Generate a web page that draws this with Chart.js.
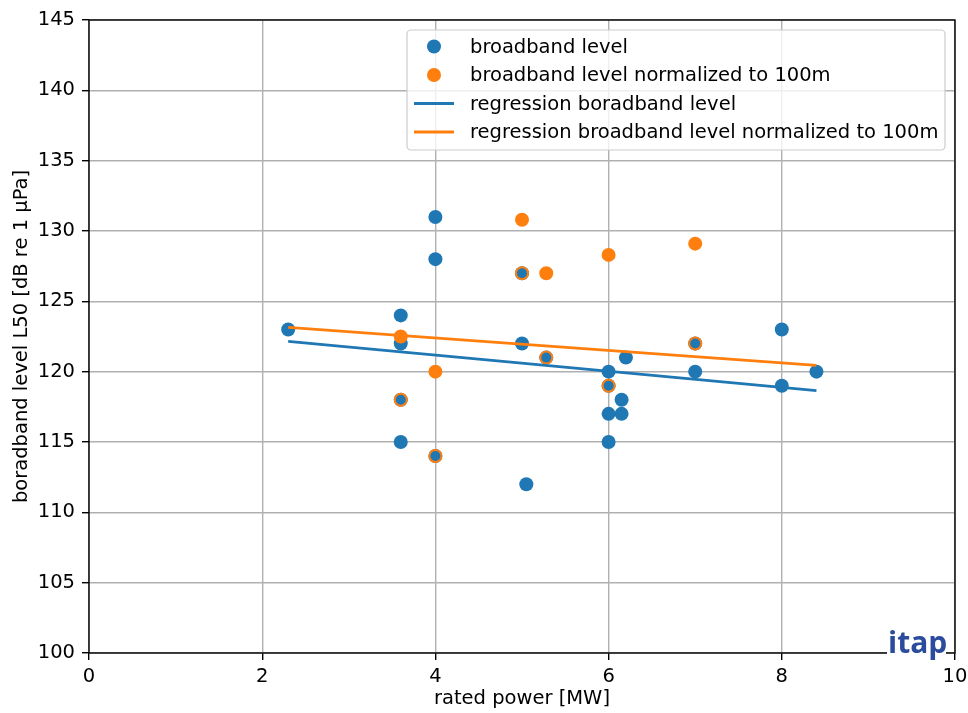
<!DOCTYPE html>
<html>
<head>
<meta charset="utf-8">
<title>broadband level vs rated power</title>
<script src="https://cdn.jsdelivr.net/npm/chart.js@4.4.1/dist/chart.umd.min.js"></script>
<style>
  html, body { margin: 0; padding: 0; background: #fff; }
  #wrap { width: 968px; height: 713px; }
</style>
</head>
<body>
<div id="wrap"><canvas id="levelChart" width="968" height="713"></canvas></div>
<script>
// measured broadband levels per turbine
var blueX = [2.3, 3.6, 3.6, 3.6, 3.6, 4, 4, 4, 5, 5, 5.05, 5.28, 6, 6, 6, 6, 6.15, 6.15, 6.2, 7, 7, 8, 8, 8.4];
var blueY = [123, 124, 122, 118, 115, 131, 128, 114, 127, 122, 112, 121, 120, 119, 117, 115, 118, 117, 121, 122, 120, 123, 119, 120];
// levels normalized to 100m distance
var orangeX = [3.6, 3.6, 4, 4, 5, 5, 5.28, 5.28, 6, 6, 7, 7];
var orangeY = [122.5, 118, 120, 114, 130.8, 127, 127, 121, 128.3, 119, 129.1, 122];
// regression lines (end points)
var regX = [2.3, 8.4];
var regBlue = [122.15, 118.65];
var regOrange = [123.15, 120.45];

var xTicks = [0, 2, 4, 6, 8, 10];
var yTicks = [100, 105, 110, 115, 120, 125, 130, 135, 140, 145];

var BLUE = '#1f77b4';
var ORANGE = '#ff7f0e';
var FONT = '"DejaVu Sans", sans-serif';
var FSIZE = 19.5;

function toPoints(xs, ys) {
	return xs.map(function (x, i) { return { x: x, y: ys[i] }; });
}

// normalized points that sit on a measured point show the blue one inside
function sameAsBlue(p) {
	for (var i = 0; i < blueX.length; i++) {
		if (blueX[i] === p.x && blueY[i] === p.y) return true;
	}
	return false;
}

// frame, legend box and logo drawn on top
var decorations = {
	id: 'decorations',
	afterDatasetsDraw: function (chart) {
		var ctx = chart.ctx, a = chart.chartArea;
		ctx.save();
		ctx.strokeStyle = '#000';
		ctx.lineWidth = 1.4;
		ctx.strokeRect(a.left, a.top, a.right - a.left, a.bottom - a.top);
		ctx.restore();
	},
	afterDraw: function (chart) {
		var ctx = chart.ctx;
		var ds = chart.data.datasets;
		ctx.save();
		// legend
		var bx = 407, by = 30, bw = 538, bh = 120, r = 4;
		ctx.beginPath();
		ctx.moveTo(bx + r, by);
		ctx.arcTo(bx + bw, by, bx + bw, by + bh, r);
		ctx.arcTo(bx + bw, by + bh, bx, by + bh, r);
		ctx.arcTo(bx, by + bh, bx, by, r);
		ctx.arcTo(bx, by, bx + bw, by, r);
		ctx.closePath();
		ctx.fillStyle = 'rgba(255,255,255,0.8)';
		ctx.fill();
		ctx.strokeStyle = '#cccccc';
		ctx.lineWidth = 1.2;
		ctx.stroke();

		var rows = [46.5, 75, 103.5, 132];
		ctx.font = FSIZE + 'px ' + FONT;
		ctx.textBaseline = 'middle';
		ds.forEach(function (d, i) {
			var y = rows[i];
			if (d.showLine) {
				ctx.strokeStyle = d.borderColor;
				ctx.lineWidth = 2.8;
				ctx.beginPath();
				ctx.moveTo(414, y);
				ctx.lineTo(454, y);
				ctx.stroke();
			} else {
				ctx.fillStyle = d.legendColor;
				ctx.beginPath();
				ctx.arc(434, y, 7, 0, Math.PI * 2);
				ctx.fill();
			}
			ctx.fillStyle = '#000';
			ctx.fillText(d.label, 470, y + 1);
		});

		// logo
		ctx.fillStyle = '#fff';
		ctx.fillRect(887, 648, 59, 10);
		ctx.fillStyle = '#2b4c9c';
		ctx.font = 'bold 30px "Open Sans", sans-serif';
		ctx.textBaseline = 'alphabetic';
		ctx.textAlign = 'left';
		ctx.fillText('itap', 888, 653);
		ctx.restore();
	}
};

function noSidePadding(s) {
	s.paddingLeft = 0;
	s.paddingRight = 0;
}

var levelChart = new Chart(document.getElementById('levelChart').getContext('2d'), {
	type: 'scatter',
	data: {
		datasets: [{
			label: 'broadband level',
			data: toPoints(blueX, blueY),
			legendColor: BLUE,
			backgroundColor: BLUE,
			pointBackgroundColor: BLUE,
			pointBorderWidth: 0,
			pointRadius: 7,
			order: 3
		}, {
			label: 'broadband level normalized to 100m',
			data: toPoints(orangeX, orangeY),
			legendColor: ORANGE,
			pointBackgroundColor: function (c) {
				return c.raw && sameAsBlue(c.raw) ? BLUE : ORANGE;
			},
			pointBorderColor: ORANGE,
			pointBorderWidth: 2,
			pointRadius: 6,
			order: 2
		}, {
			label: 'regression boradband level',
			data: toPoints(regX, regBlue),
			showLine: true,
			borderColor: BLUE,
			borderWidth: 2.8,
			pointRadius: 0,
			order: 1
		}, {
			label: 'regression broadband level normalized to 100m',
			data: toPoints(regX, regOrange),
			showLine: true,
			borderColor: ORANGE,
			borderWidth: 2.8,
			pointRadius: 0,
			order: 0
		}]
	},
	options: {
		responsive: false,
		animation: false,
		devicePixelRatio: 1,
		layout: { padding: { top: 20, right: 13, bottom: 0, left: 0 } },
		plugins: {
			legend: { display: false },
			tooltip: { enabled: false }
		},
		scales: {
			x: {
				type: 'linear',
				min: 0,
				max: 10,
				afterBuildTicks: function (s) { s.ticks = xTicks.map(function (v) { return { value: v }; }); },
				afterFit: function (s) { s.height = 60; noSidePadding(s); },
				border: { display: false },
				grid: { color: '#b0b0b0', lineWidth: 1.4, tickColor: '#000', tickLength: 7 },
				ticks: { color: '#000', padding: 5, font: { family: FONT, size: FSIZE } },
				title: {
					display: true,
					text: 'rated power [MW]',
					color: '#000',
					font: { family: FONT, size: FSIZE },
					padding: { top: 0, bottom: 2 }
				}
			},
			y: {
				type: 'linear',
				min: 100,
				max: 145,
				afterBuildTicks: function (s) { s.ticks = yTicks.map(function (v) { return { value: v }; }); },
				afterFit: function (s) { s.width = 89; },
				border: { display: false },
				grid: { color: '#b0b0b0', lineWidth: 1.4, tickColor: '#000', tickLength: 7 },
				ticks: { color: '#000', padding: 7, font: { family: FONT, size: FSIZE } },
				title: {
					display: true,
					text: 'boradband level L50 [dB re 1 μPa]',
					color: '#000',
					font: { family: FONT, size: FSIZE },
					padding: { top: 10, bottom: 0 }
				}
			}
		}
	},
	plugins: [decorations]
});
</script>
</body>
</html>
